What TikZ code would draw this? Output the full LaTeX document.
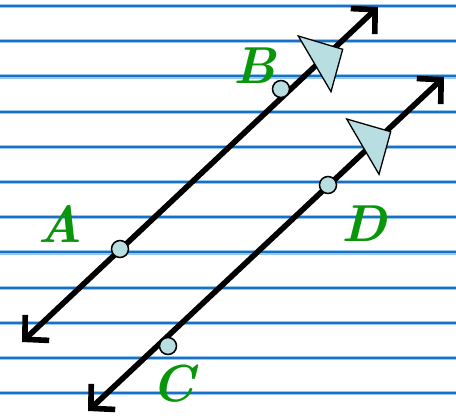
\documentclass[tikz,border=0pt]{standalone}
\usetikzlibrary{arrows.meta}
\definecolor{paperdark}{RGB}{26,112,196}
\definecolor{paperlight}{RGB}{150,200,238}
\definecolor{markfill}{RGB}{185,222,226}
\definecolor{labelgreen}{RGB}{10,150,10}
\tikzset{
  ruling/.style={line width=4.2pt, paperlight},
  rulingcore/.style={line width=2pt, paperdark},
  pline/.style={line width=5.6pt, black, {Straight Barb[length=17pt,width=35pt,line width=5.6pt]}-{Straight Barb[length=17pt,width=35pt,line width=5.6pt]}},
  pt/.style={circle, draw=black, line width=1.5pt, fill=markfill, minimum size=17pt, inner sep=0pt},
  tri/.style={draw=black, line width=1.3pt, fill=markfill, line join=miter},
  lab/.style={text=labelgreen, font=\fontsize{52}{52}\selectfont\itshape\bfseries, inner sep=0pt}
}
\begin{document}
\begin{tikzpicture}[x=1pt,y=-1pt]
\useasboundingbox (0,0) rectangle (456,418);
\fill[white] (0,0) rectangle (456,418);
\foreach \k in {0,...,11}{
  \draw[ruling] (0,{6+35.2*\k}) -- (456,{6+35.2*\k});
  \draw[rulingcore] (0,{6+35.2*\k}) -- (456,{6+35.2*\k});
}
% line 1
\coordinate (l1s) at (22,342);
\coordinate (l1e) at (378,7);
\draw[pline] (l1s) -- (l1e);
% line 2
\coordinate (l2s) at (88,411);
\coordinate (l2e) at (444,77);
\draw[pline] (l2s) -- (l2e);
% parallel markers
\draw[tri] (298.3,36) -- (342.7,49.3) -- (331,91.7) -- cycle;
\draw[tri] (346.7,119) -- (390.7,131.7) -- (379,174.3) -- cycle;
% points
\node[pt] (A) at (120,249) {};
\node[pt] (B) at (281,89) {};
\node[pt] (C) at (168,346) {};
\node[pt] (D) at (328,185) {};
% labels
\node[lab] (lA) at (60,224) {A};
\node[lab] (lB) at (255,66) {B};
\node[lab] (lC) at (173,384) {C};
\node[lab] (lD) at (364,224) {D};
\end{tikzpicture}
\end{document}
